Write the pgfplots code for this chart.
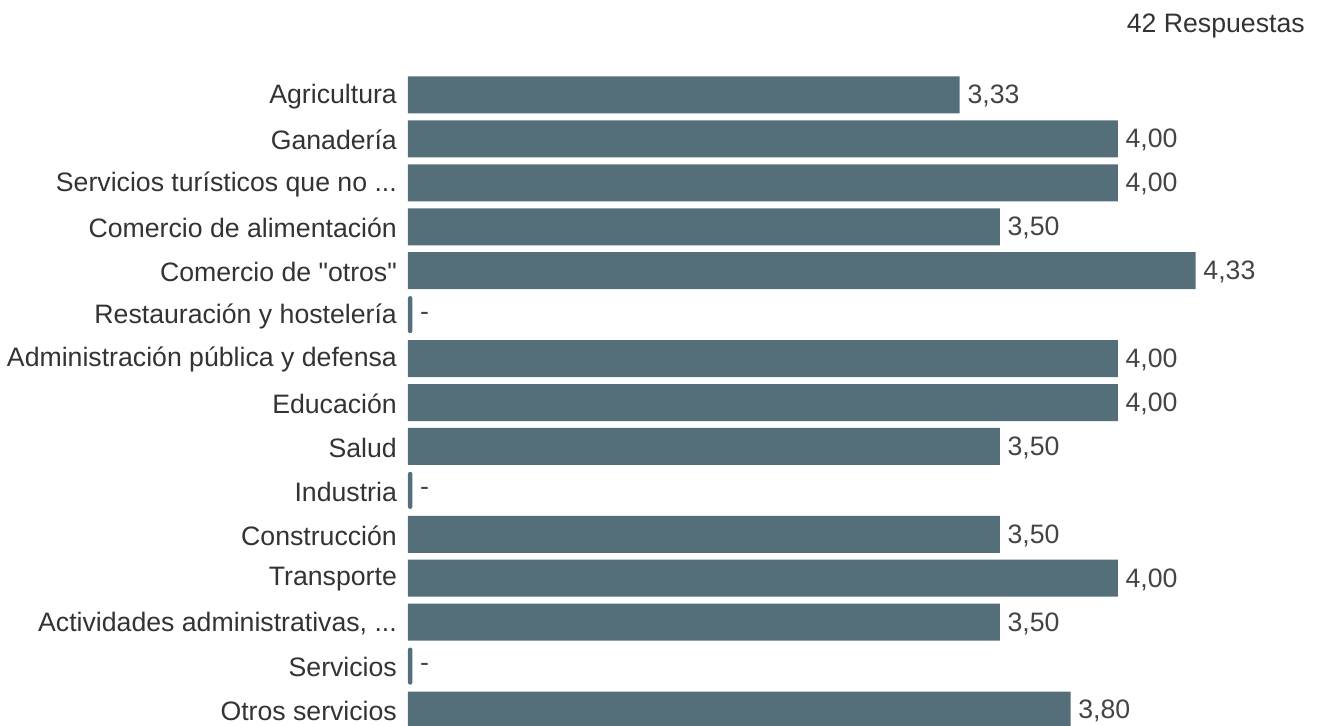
\documentclass[border=0pt]{standalone}
\usepackage{fontspec}
\setmainfont{Liberation Sans}[Ligatures=TeXOff]
\usepackage{pgfplots}
\usepackage{pgfplotstable}
\pgfplotsset{compat=1.18}
\definecolor{barcol}{HTML}{546E7A}
\definecolor{labcol}{HTML}{333333}
\definecolor{valcol}{HTML}{444444}
\newcommand\tdots{...}

% y = row (0 = top), value, label
\pgfplotstableread{
y  v     lab
0  3.33  3,33
1  4.00  4,00
2  4.00  4,00
3  3.50  3,50
4  4.33  4,33
6  4.00  4,00
7  4.00  4,00
8  3.50  3,50
10 3.50  3,50
11 4.00  4,00
12 3.50  3,50
14 3.80  3,80
}\rated
% rows without an answer (shown as "-")
\pgfplotstableread{
y  v      lab
5  1.01  -
9  1.01  -
13 1.01  -
}\norate

\begin{document}
\fontsize{20}{24}\selectfont
\begin{tikzpicture}
\begin{axis}[
    at={(0,0)}, anchor=south west,
    scale only axis,
    width=661.5pt, height=494.25pt,
    xbar, bar width=27.75pt, bar shift=0pt,
    xmin=0.9915, xmax=4.73,
    ymin=-0.5, ymax=14.5,
    y dir=reverse,
    axis line style={draw=none},
    major tick length=0pt,
    xtick=\empty,
    ytick={0,1,2,3,4,5,6,7,8,9,10,11,12,13,14},
    yticklabels={Agricultura, Ganadería, Servicios turísticos que no \tdots,
      Comercio de alimentación, Comercio de "otros", Restauración y hostelería,
      Administración pública y defensa, Educación, Salud, Industria,
      Construcción, Transporte, {Actividades administrativas, \tdots},
      Servicios, Otros servicios},
    yticklabel style={font=\fontsize{20}{24}\selectfont, text=labcol, xshift=-1.5pt, yshift=-1pt},
    nodes near coords,
    point meta=explicit symbolic,
    every node near coord/.append style={font=\fontsize{20}{24}\selectfont, text=valcol, anchor=west, xshift=-1pt, yshift=-1pt},
]
\addplot[draw=none, fill=barcol] table[x=v, y=y, meta=lab] {\rated};
\addplot[draw=none, fill=barcol, rounded corners=1.5pt] table[x=v, y=y, meta=lab] {\norate};
\end{axis}
\node[anchor=base east, text=labcol, inner sep=0pt] at (672.75pt,524.25pt) {42 Respuestas};
\pgfresetboundingbox
\path (-306pt,5.25pt) rectangle (684.75pt,549pt);
\end{tikzpicture}
\end{document}
